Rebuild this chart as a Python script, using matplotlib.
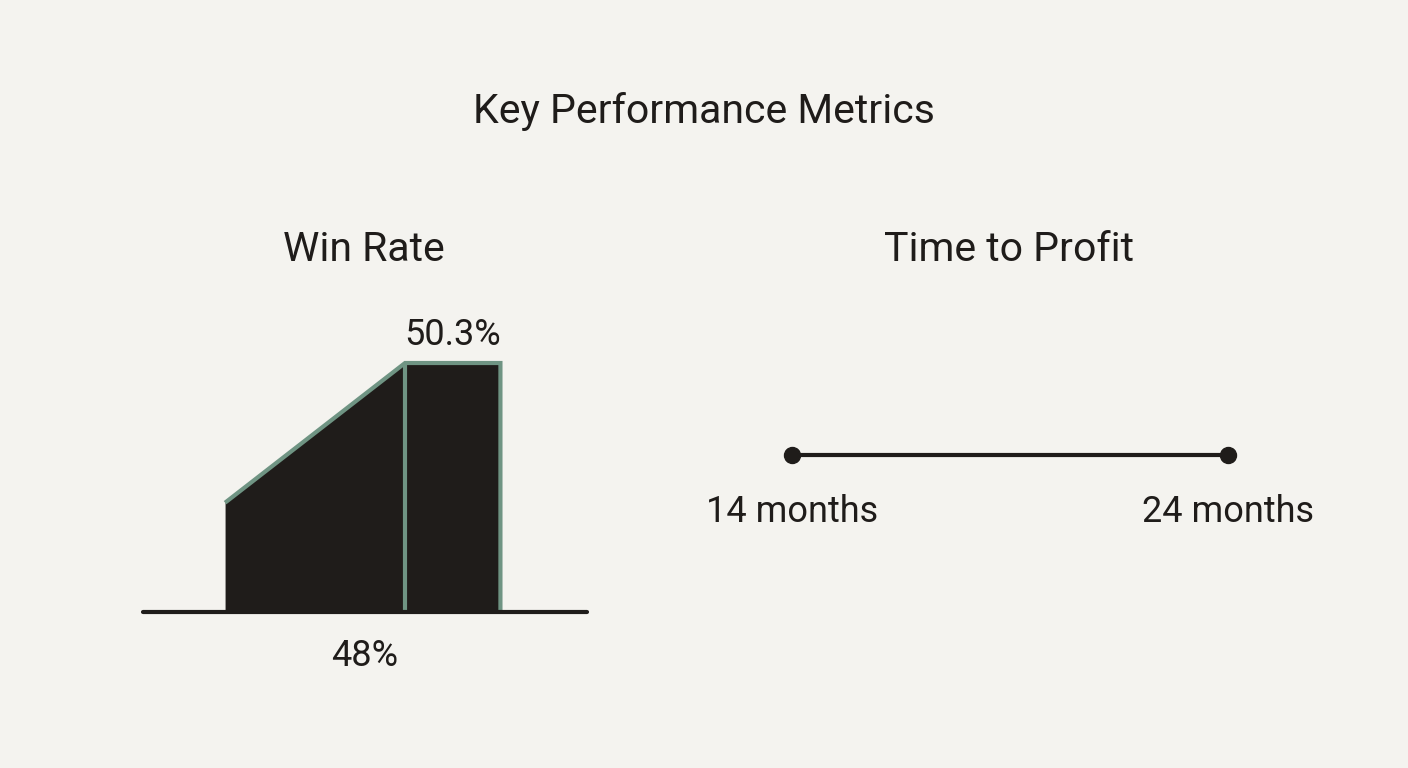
import matplotlib.pyplot as plt

# data
win_rate = [48.0, 50.3]          # start of ramp, final value
win_labels = ["48%", "50.3%"]
months = [14, 24]
month_labels = ["14 months", "24 months"]

title = "Key Performance Metrics"
panel_titles = ["Win Rate", "Time to Profit"]

# style
W, H = 1408, 768
bg = "#f4f3ef"
ink = "#1f1c1a"
green = "#6f9483"
floor = 46.2      # axis floor for the win-rate shape
bar_w = 0.53      # width of the final block, ramp runs 0..1

plt.rcParams["font.family"] = ["Roboto", "DejaVu Sans"]


def box(x0, y0, x1, y1):
    # pixel box (top-left origin) -> figure fraction rect
    return [x0 / W, 1 - y1 / H, (x1 - x0) / W, (y1 - y0) / H]


fig = plt.figure(figsize=(W / 100, H / 100), dpi=100, facecolor=bg)

fig.text(704 / W, 1 - 123 / H, title, ha="center", va="baseline",
         fontsize=29.5, color=ink)
fig.text(364 / W, 1 - 261 / H, panel_titles[0], ha="center", va="baseline",
         fontsize=29.5, color=ink)
fig.text(1009 / W, 1 - 261 / H, panel_titles[1], ha="center", va="baseline",
         fontsize=29.5, color=ink)

# --- Win rate panel
ax = fig.add_axes(box(143, 320.5, 587, 612))
ax.set_xlim(-0.456, 2.011)
ax.set_ylim(floor, 51.0)
ax.axis("off")

ax.fill_between([0, 1], win_rate, floor, color=ink, lw=0, zorder=1)
ax.bar(1, win_rate[1] - floor, bottom=floor, width=bar_w, align="edge",
       color=ink, lw=0, zorder=1)
ax.plot([0, 1, 1 + bar_w, 1 + bar_w], [win_rate[0], win_rate[1], win_rate[1], floor],
        color=green, lw=3, solid_capstyle="butt", solid_joinstyle="miter", zorder=3)
ax.vlines(1, floor, win_rate[1], color=green, lw=3, zorder=3)
ax.axhline(floor, color=ink, lw=3, solid_capstyle="round", clip_on=False, zorder=4)

ax.annotate(win_labels[1], (1 + bar_w / 2, win_rate[1]), xytext=(0, 13),
            textcoords="offset points", ha="center", va="baseline",
            fontsize=26, color=ink, annotation_clip=False)
ax.annotate(win_labels[0], (0.5, floor), xycoords=("axes fraction", "data"),
            xytext=(0, -39), textcoords="offset points", ha="center",
            va="baseline", fontsize=26, color=ink, annotation_clip=False)

# --- Time to profit panel
ax2 = fig.add_axes(box(700, 405, 1320, 505))
ax2.set_xlim(months[0] - 2.11, months[1] + 2.11)
ax2.set_ylim(-1, 1)
ax2.axis("off")
ax2.plot(months, [0, 0], color=ink, lw=3, marker="o", markersize=11.5,
         solid_capstyle="round", zorder=3)
for m, lab in zip(months, month_labels):
    ax2.annotate(lab, (m, 0), xytext=(0, -48), textcoords="offset points",
                 ha="center", va="baseline", fontsize=26, color=ink,
                 annotation_clip=False)

fig.savefig("out.png", dpi=100, facecolor=bg)
